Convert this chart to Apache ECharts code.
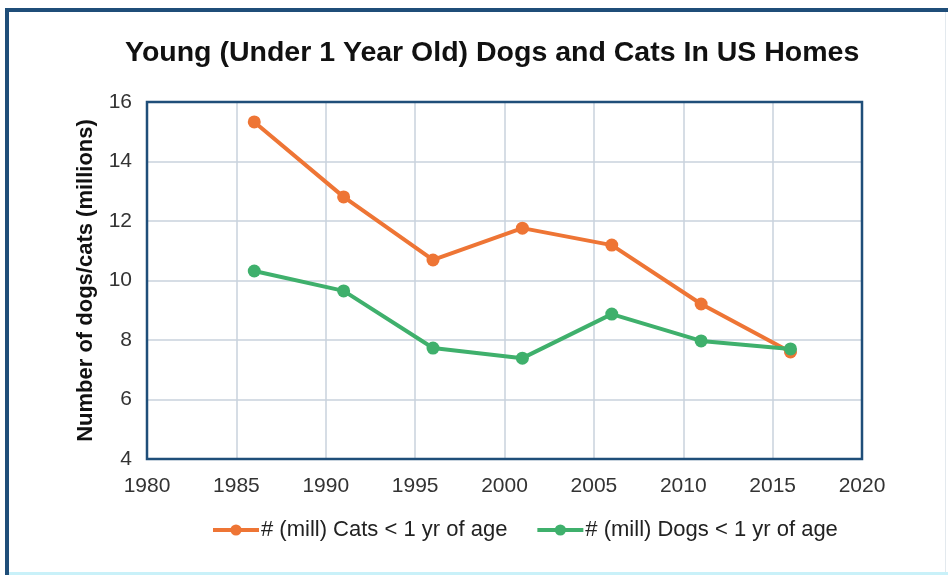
<!DOCTYPE html>
<html>
<head>
<meta charset="utf-8">
<script src="https://cdn.jsdelivr.net/npm/echarts@6/dist/echarts.min.js"></script>
<style>
  html, body { margin: 0; padding: 0; background: #fff; }
  #chart { width: 948px; height: 575px; }
</style>
</head>
<body>
<div id="chart"></div>
<script>
// survey years
const years = [1986, 1991, 1996, 2001, 2006, 2011, 2016]
// millions, under 1 year old
const cats = [15.33, 12.81, 10.69, 11.76, 11.19, 9.21, 7.6]
const dogs = [10.32, 9.65, 7.73, 7.39, 8.87, 7.97, 7.7]

const catName = '# (mill) Cats < 1 yr of age'
const dogName = '# (mill) Dogs < 1 yr of age'

const navy = '#1f4e79'
const gridColor = '#c8d2dc'

const instance = echarts.init(document.getElementById('chart'))

function pairs(xs, ys) {
  return xs.map((x, i) => [x, ys[i]])
}

const options = {
  animation: false,
  backgroundColor: '#fff',
  textStyle: { fontFamily: 'Liberation Sans, Arial, sans-serif' },
  title: {
    text: 'Young (Under 1 Year Old) Dogs and Cats In US Homes',
    left: 120,
    top: 34,
    textStyle: { fontSize: 28.5, fontWeight: 'bold', color: '#111' },
  },
  // outer frame of the picture
  graphic: [
    { type: 'rect', shape: { x: 5, y: 8, width: 943, height: 4 }, style: { fill: navy } },
    { type: 'rect', shape: { x: 5, y: 8, width: 4, height: 567 }, style: { fill: navy } },
    { type: 'rect', shape: { x: 945, y: 12, width: 1, height: 560 }, style: { fill: '#e3e9ee' } },
    { type: 'rect', shape: { x: 9, y: 572, width: 939, height: 3 }, style: { fill: '#c9f1f9' } },
  ],
  legend: {
    top: 514,
    left: 206,
    itemWidth: 46,
    itemHeight: 14,
    itemGap: 28,
    lineStyle: { width: 4 },
    textStyle: { fontSize: 22, color: '#222', padding: [0, 0, 0, -3] },
    data: [catName, dogName],
  },
  grid: {
    left: 147,
    right: 86,
    top: 102,
    bottom: 116,
    show: true,
    borderColor: navy,
    borderWidth: 2.5,
    z: 3,
  },
  xAxis: {
    type: 'value',
    min: 1980,
    max: 2020,
    interval: 5,
    axisLine: { show: false },
    axisTick: { show: false },
    axisLabel: { color: '#333', fontSize: 21, margin: 17, formatter: (v) => String(v) },
    splitLine: { show: true, showMinLine: false, showMaxLine: false, lineStyle: { color: gridColor, width: 1.5 } },
  },
  yAxis: {
    type: 'value',
    min: 4,
    max: 16,
    interval: 2,
    name: 'Number of dogs/cats (millions)',
    nameLocation: 'middle',
    nameGap: 50,
    nameTextStyle: { fontSize: 22, fontWeight: 'bold', color: '#111' },
    axisLine: { show: false },
    axisTick: { show: false },
    axisLabel: { color: '#333', fontSize: 21, margin: 15 },
    splitLine: { show: true, showMinLine: false, showMaxLine: false, lineStyle: { color: gridColor, width: 1.5 } },
  },
  series: [
    {
      name: catName,
      type: 'line',
      data: pairs(years, cats),
      color: '#ee7535',
      symbol: 'circle',
      symbolSize: 13,
      lineStyle: { width: 4 },
      z: 4,
    },
    {
      name: dogName,
      type: 'line',
      data: pairs(years, dogs),
      color: '#3fb06c',
      symbol: 'circle',
      symbolSize: 13,
      lineStyle: { width: 4 },
      z: 5,
    },
  ],
}

instance.setOption(options)
</script>
</body>
</html>
